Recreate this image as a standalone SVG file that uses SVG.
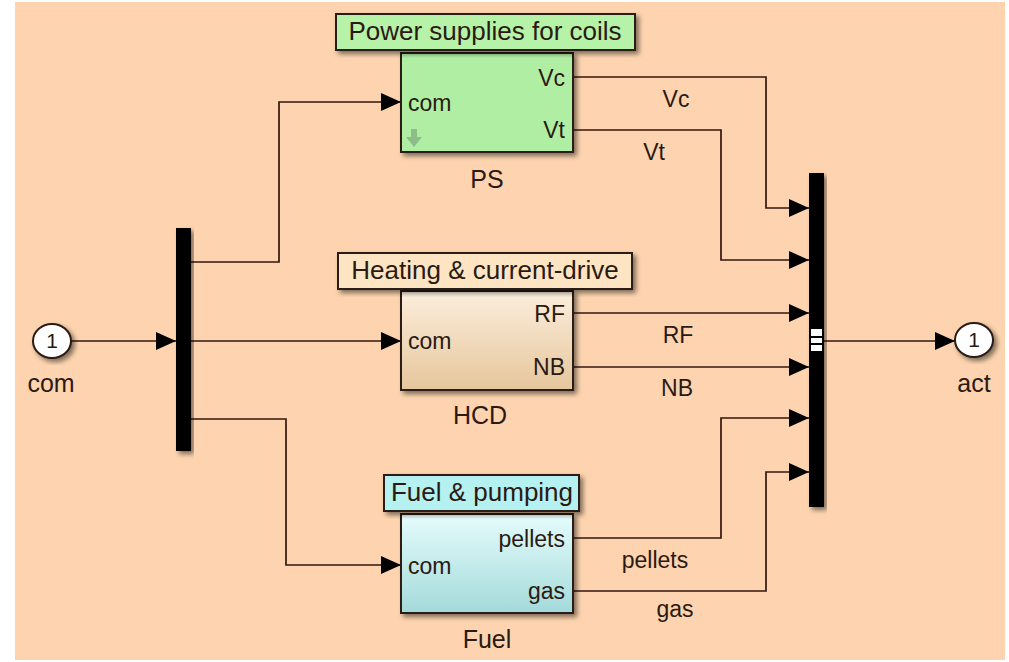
<svg xmlns="http://www.w3.org/2000/svg" width="1009" height="662" viewBox="0 0 1009 662">
<style>
  .t { font-family: "Liberation Sans", Arial, sans-serif; fill: #2a1a12; }
  .title { font-size: 26px; text-anchor: middle; }
  .port { font-size: 23px; }
  .name { font-size: 25px; text-anchor: middle; }
  .sig { font-size: 23px; text-anchor: middle; }
  .blk { stroke: #2a1a12; stroke-width: 2; }
  .wire { fill: none; stroke: #33170f; stroke-width: 1.7; }
</style>
<defs>
  <filter id="sh" x="-20%" y="-20%" width="140%" height="140%">
    <feDropShadow dx="3" dy="3" stdDeviation="2.5" flood-color="#000" flood-opacity="0.5"/>
  </filter>
  <linearGradient id="gHCD" x1="0" y1="0" x2="0" y2="1">
    <stop offset="0" stop-color="#FCEEDC"/>
    <stop offset="1" stop-color="#E6C69C"/>
  </linearGradient>
  <linearGradient id="gFuel" x1="0" y1="0" x2="0" y2="1">
    <stop offset="0" stop-color="#E6FCFC"/>
    <stop offset="1" stop-color="#A4DADA"/>
  </linearGradient>
  <marker id="arr" viewBox="0 0 20 20" refX="20" refY="10" markerWidth="20" markerHeight="20" markerUnits="userSpaceOnUse" orient="auto">
    <path d="M0,1 L20,10 L0,19 Z" fill="#000"/>
  </marker>
</defs>

<rect x="0" y="0" width="1009" height="662" fill="#ffffff"/>
<rect x="15" y="2" width="990" height="658" fill="#FDD4AF"/>

<g id="connectors">
  <path class="wire" d="M71,341 H176" marker-end="url(#arr)"/>
  <path class="wire" d="M191,262 H279 V102 H401" marker-end="url(#arr)"/>
  <path class="wire" d="M191,341 H401" marker-end="url(#arr)"/>
  <path class="wire" d="M191,419 H286 V565 H401" marker-end="url(#arr)"/>
  <path class="wire" d="M573,77 H766 V208 H809" marker-end="url(#arr)"/>
  <path class="wire" d="M573,130 H721 V260 H809" marker-end="url(#arr)"/>
  <path class="wire" d="M573,313 H809" marker-end="url(#arr)"/>
  <path class="wire" d="M573,367 H809" marker-end="url(#arr)"/>
  <path class="wire" d="M573,538 H721 V418 H809" marker-end="url(#arr)"/>
  <path class="wire" d="M573,591 H766 V472 H809" marker-end="url(#arr)"/>
  <path class="wire" d="M824,341 H955" marker-end="url(#arr)"/>
  <text class="t sig" x="676" y="107">Vc</text>
  <text class="t sig" x="654" y="160">Vt</text>
  <text class="t sig" x="678" y="343">RF</text>
  <text class="t sig" x="677" y="396">NB</text>
  <text class="t sig" x="655" y="568">pellets</text>
  <text class="t sig" x="675" y="617">gas</text>
</g>

<g id="in_com">
  <ellipse cx="52" cy="341" rx="19" ry="17" fill="#fff" stroke="#2a1a12" stroke-width="2" filter="url(#sh)"/>
  <text class="t" x="52" y="348" font-size="21" text-anchor="middle">1</text>
  <text class="t name" x="51" y="392">com</text>
</g>

<g id="demux">
  <rect x="176" y="228" width="15" height="223" fill="#000" filter="url(#sh)"/>
</g>

<g id="PS">
  <rect class="blk" x="401" y="53" width="172" height="99" fill="#B0EFA3" filter="url(#sh)"/>
  <rect class="blk" x="336" y="14" width="299" height="36" fill="#B6F2A8" filter="url(#sh)"/>
  <text class="t title" x="485" y="40">Power supplies for coils</text>
  <text class="t port" x="408" y="111">com</text>
  <text class="t port" x="565" y="86" text-anchor="end">Vc</text>
  <text class="t port" x="565" y="138" text-anchor="end">Vt</text>
  <polygon points="411,129 417,129 417,137 422,137 414,147 406,137 411,137" fill="#8DBE8A"/>
  <text class="t name" x="487" y="188">PS</text>
</g>

<g id="HCD">
  <rect class="blk" x="401" y="291" width="172" height="99" fill="url(#gHCD)" filter="url(#sh)"/>
  <rect class="blk" x="338" y="253" width="294" height="36" fill="#FDE5C3" filter="url(#sh)"/>
  <text class="t title" x="485" y="279">Heating &amp; current-drive</text>
  <text class="t port" x="408" y="349">com</text>
  <text class="t port" x="565" y="322" text-anchor="end">RF</text>
  <text class="t port" x="565" y="375" text-anchor="end">NB</text>
  <text class="t name" x="480" y="424">HCD</text>
</g>

<g id="Fuel">
  <rect class="blk" x="401" y="514" width="172" height="99" fill="url(#gFuel)" filter="url(#sh)"/>
  <rect class="blk" x="384" y="475" width="195" height="36" fill="#B5F1F1" filter="url(#sh)"/>
  <text class="t title" x="482" y="501">Fuel &amp; pumping</text>
  <text class="t port" x="408" y="574">com</text>
  <text class="t port" x="565" y="547" text-anchor="end">pellets</text>
  <text class="t port" x="565" y="599" text-anchor="end">gas</text>
  <text class="t name" x="487" y="648">Fuel</text>
</g>

<g id="mux">
  <rect x="809" y="173" width="15" height="334" fill="#000" filter="url(#sh)"/>
  <rect x="811" y="329" width="11" height="7" fill="#fff"/>
  <rect x="811" y="338" width="11" height="5" fill="#fff"/>
  <rect x="811" y="345" width="11" height="6" fill="#fff"/>
</g>

<g id="out_act">
  <ellipse cx="974" cy="340" rx="19" ry="17" fill="#fff" stroke="#2a1a12" stroke-width="2" filter="url(#sh)"/>
  <text class="t" x="974" y="347" font-size="21" text-anchor="middle">1</text>
  <text class="t name" x="974" y="392">act</text>
</g>
</svg>
